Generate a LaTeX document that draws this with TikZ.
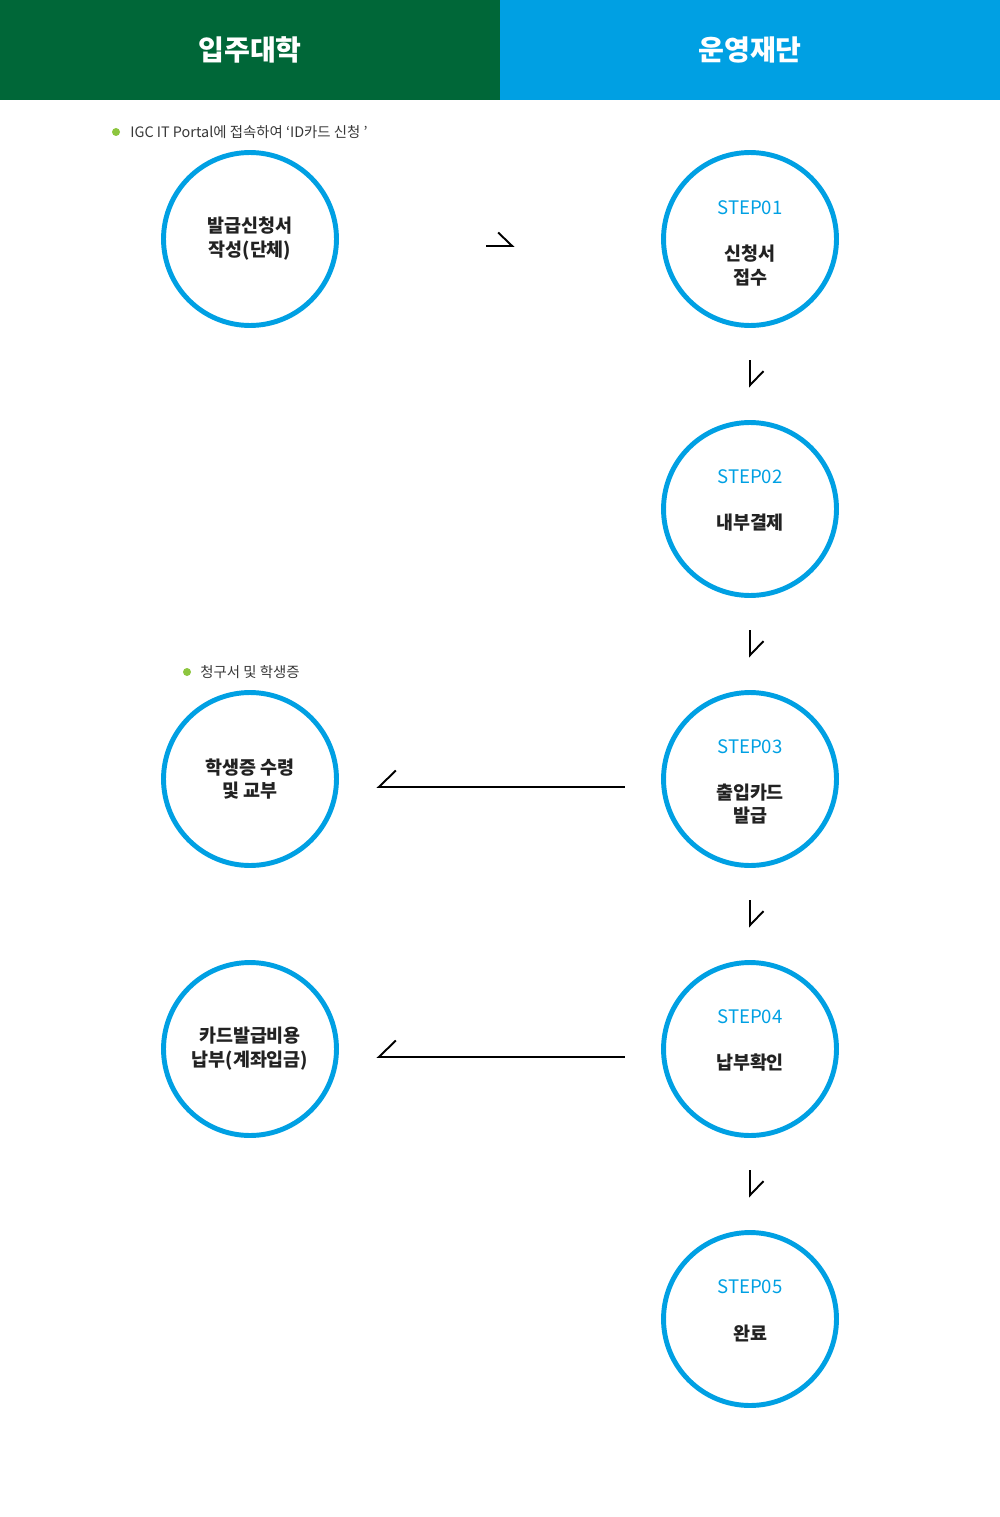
\documentclass[tikz,border=0pt]{standalone}
\usepackage{fontspec}
\setmainfont{Noto Sans CJK KR}
\usetikzlibrary{arrows.meta}
\definecolor{dgreen}{RGB}{0,103,56}
\definecolor{sky}{RGB}{0,160,227}
\definecolor{leaf}{RGB}{141,198,63}
\definecolor{ink}{RGB}{34,34,34}
\tikzset{
	circ/.style={draw=sky,line width=2.8pt,circle,inner sep=0,outer sep=0,minimum size=3.46cm,align=center,text=ink,font=\fontsize{10.5}{13.6}\selectfont\bfseries},
	steptxt/.style={text=sky,font=\fontsize{10.6}{13}\selectfont},
	bodytxt/.style={align=center,text=ink,font=\fontsize{10.5}{13.6}\selectfont\bfseries},
	headtxt/.style={text=white,font=\fontsize{16}{19}\selectfont\bfseries},
	notetxt/.style={anchor=west,inner sep=0,text=ink!90,font=\fontsize{8.2}{10}\selectfont},
	dot/.style={circle,fill=leaf,inner sep=0,minimum size=0.16cm},
	flow/.style={line width=1.1pt,-{Straight Barb[harpoon,length=0.28cm,width=0.54cm,line width=1.1pt]}},
	flowb/.style={line width=1.1pt,-{Straight Barb[harpoon,swap,length=0.34cm,width=0.66cm,line width=1.1pt]}}
}
\begin{document}
\begin{tikzpicture}[x=0.02cm,y=-0.02cm]
	\useasboundingbox (0,0) rectangle (1000,1517);
	\fill[dgreen] (0,0) rectangle (500,100);
	\fill[sky] (500,0) rectangle (1000,100);
	\node[headtxt] (h1) at (250,50) {입주대학};
	\node[headtxt] (h2) at (750,50) {운영재단};
	% notes
	\node[dot] (d1) at (116,132) {};
	\node[notetxt] (n1) at (130,132) {IGC IT Portal에 접속하여 ‘ID카드 신청 ’};
	\node[dot] (d2) at (187,672) {};
	\node[notetxt] (n2) at (200,672) {청구서 및 학생증};
	% left column
	\node[circ] (b1) at (250,239) {발급신청서\\작성(단체)};
	\node[circ] (b3) at (250,779) {학생증 수령\\및 교부};
	\node[circ] (b4) at (250,1049) {카드발급비용\\납부(계좌입금)};
	% right column
	\node[circ] (s1) at (750,239) {};
	\node[circ] (s2) at (750,509) {};
	\node[circ] (s3) at (750,779) {};
	\node[circ] (s4) at (750,1049) {};
	\node[circ] (s5) at (750,1319) {};
	\node[steptxt] (p1) at (750,208) {STEP01};
	\node[steptxt] (p2) at (750,477) {STEP02};
	\node[steptxt] (p3) at (750,747) {STEP03};
	\node[steptxt] (p4) at (750,1017) {STEP04};
	\node[steptxt] (p5) at (750,1287) {STEP05};
	\node[bodytxt] (t1) at (750,266) {신청서\\접수};
	\node[bodytxt] (t2) at (750,523) {내부결제};
	\node[bodytxt] (t3) at (750,804) {출입카드\\발급};
	\node[bodytxt] (t4) at (750,1063) {납부확인};
	\node[bodytxt] (t5) at (750,1333) {완료};
	% connectors
	\draw[flow,shorten <=3cm,shorten >=2.98cm,transform canvas={yshift=-0.14cm}] (b1) -- (s1);
	\draw[flow,shorten <=0.7cm,shorten >=0.7cm] (s1) -- (s2);
	\draw[flow,shorten <=0.7cm,shorten >=0.7cm] (s2) -- (s3);
	\draw[flow,shorten <=0.7cm,shorten >=0.7cm] (s3) -- (s4);
	\draw[flow,shorten <=0.7cm,shorten >=0.7cm] (s4) -- (s5);
	\draw[flowb,shorten <=0.78cm,shorten >=0.8cm,transform canvas={yshift=-0.16cm}] (s3) -- (b3);
	\draw[flowb,shorten <=0.78cm,shorten >=0.8cm,transform canvas={yshift=-0.16cm}] (s4) -- (b4);
\end{tikzpicture}
\end{document}
